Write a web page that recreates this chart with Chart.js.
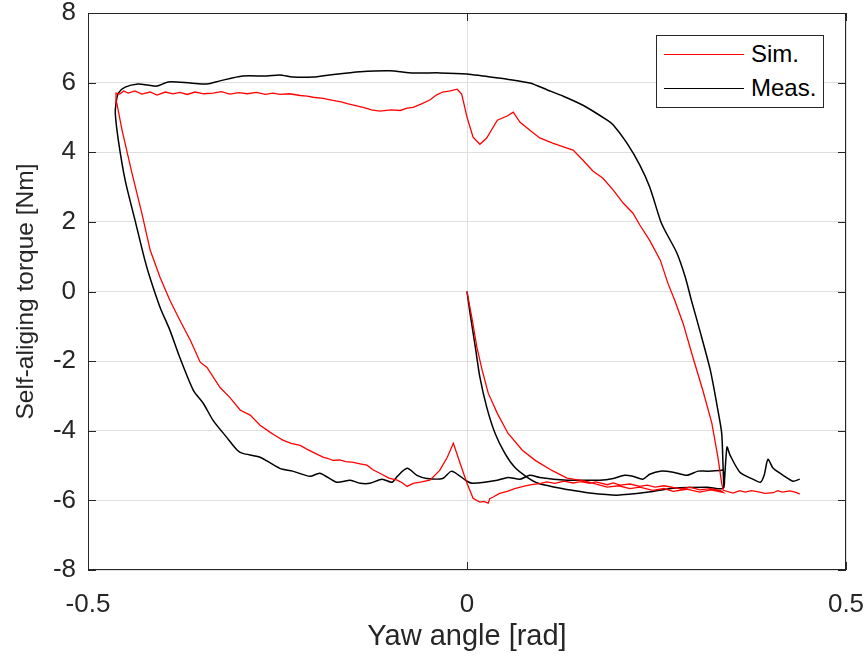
<!DOCTYPE html>
<html>
<head>
<meta charset="utf-8">
<script src="https://cdn.jsdelivr.net/npm/chart.js@4.4.1/dist/chart.umd.min.js"></script>
<style>
  html, body { margin: 0; padding: 0; background: #fff; }
  #wrap { position: relative; width: 868px; height: 659px; }
  #legend { position: absolute; left: 656px; top: 35px; width: 166px; height: 71px; border: 1px solid #262626; background: #fff;
            font-family: 'Liberation Sans', Arial, sans-serif; font-size: 24px; color: #000; }
  .row { position: absolute; left: 0; height: 30px; display: flex; align-items: center; }
  .sw { width: 80px; height: 0; border-top: 1.5px solid; margin-left: 7px; margin-right: 7px; }
</style>
</head>
<body>
<div id="wrap">
  <canvas id="chart" width="868" height="659"></canvas>
  <div id="legend">
    <div class="row" style="top:3px"><span class="sw" style="border-color:#ff0000"></span>Sim.</div>
    <div class="row" style="top:37px"><span class="sw" style="border-color:#000"></span>Meas.</div>
  </div>
</div>
<script>
// axis ticks
const xTicks = [-0.5, 0, 0.5];
const yTicks = [-8, -6, -4, -2, 0, 2, 4, 6, 8];

// yaw angle [rad], torque [Nm], in drawing order
const simulated = [
  [0, 0], [0.007, -0.82], [0.013, -1.60], [0.020, -2.26], [0.028, -2.92], [0.040, -3.50], [0.054, -4.07],
  [0.073, -4.56], [0.090, -4.85], [0.112, -5.14], [0.132, -5.36], [0.156, -5.45], [0.185, -5.62],
  [0.200, -5.58], [0.215, -5.66], [0.228, -5.62], [0.245, -5.71], [0.260, -5.66], [0.272, -5.74],
  [0.290, -5.68], [0.307, -5.76], [0.322, -5.70], [0.338, -5.77],
  [0.334, -5.71], [0.321, -5.66], [0.307, -5.70], [0.294, -5.62], [0.283, -5.67], [0.272, -5.63],
  [0.260, -5.58], [0.248, -5.62], [0.238, -5.56], [0.228, -5.60], [0.215, -5.53], [0.202, -5.56],
  [0.193, -5.50], [0.185, -5.55], [0.170, -5.47], [0.162, -5.51], [0.150, -5.46], [0.140, -5.50],
  [0.128, -5.45], [0.116, -5.51], [0.105, -5.47], [0.096, -5.52], [0.085, -5.55], [0.074, -5.60],
  [0.063, -5.66], [0.053, -5.74], [0.043, -5.80], [0.034, -5.91], [0.030, -5.95], [0.028, -6.08],
  [0.022, -6.03], [0.017, -6.05], [0.008, -5.94], [0, -5.51], [-0.009, -4.94], [-0.018, -4.36],
  [-0.026, -4.76], [-0.036, -5.14], [-0.049, -5.42], [-0.060, -5.47], [-0.071, -5.51], [-0.079, -5.60],
  [-0.085, -5.50], [-0.092, -5.42], [-0.103, -5.36], [-0.115, -5.22], [-0.124, -5.12], [-0.132, -4.99],
  [-0.141, -4.95], [-0.150, -4.91], [-0.160, -4.89], [-0.168, -4.84], [-0.177, -4.85], [-0.184, -4.79],
  [-0.190, -4.76], [-0.203, -4.62], [-0.212, -4.52], [-0.220, -4.42], [-0.232, -4.36], [-0.243, -4.27],
  [-0.252, -4.15], [-0.260, -4.04], [-0.273, -3.84], [-0.286, -3.55], [-0.299, -3.41], [-0.313, -3.04],
  [-0.326, -2.75], [-0.343, -2.18], [-0.352, -2.03], [-0.365, -1.40], [-0.379, -0.82], [-0.392, -0.25],
  [-0.405, 0.41], [-0.418, 1.19], [-0.429, 2.25], [-0.442, 3.40], [-0.455, 4.63], [-0.462, 5.41],
  [-0.463, 5.70], [-0.458, 5.67], [-0.453, 5.76], [-0.447, 5.70], [-0.438, 5.76], [-0.429, 5.67],
  [-0.418, 5.73], [-0.409, 5.64], [-0.398, 5.73], [-0.388, 5.68], [-0.379, 5.72], [-0.369, 5.66],
  [-0.359, 5.73], [-0.347, 5.68], [-0.335, 5.70], [-0.324, 5.74], [-0.313, 5.67], [-0.301, 5.71],
  [-0.290, 5.68], [-0.278, 5.72], [-0.266, 5.66], [-0.256, 5.70], [-0.247, 5.66], [-0.234, 5.68],
  [-0.220, 5.63], [-0.211, 5.61], [-0.203, 5.58], [-0.190, 5.55], [-0.177, 5.49], [-0.166, 5.45],
  [-0.158, 5.40], [-0.147, 5.34], [-0.137, 5.29], [-0.126, 5.22], [-0.115, 5.18], [-0.100, 5.22],
  [-0.088, 5.20], [-0.079, 5.27], [-0.071, 5.29], [-0.060, 5.39], [-0.049, 5.50], [-0.040, 5.65],
  [-0.032, 5.73], [-0.022, 5.76], [-0.013, 5.81], [-0.007, 5.67], [0, 5.01], [0.008, 4.43],
  [0.017, 4.23], [0.026, 4.41], [0.040, 4.92], [0.053, 5.04], [0.061, 5.15], [0.070, 4.86],
  [0.083, 4.63], [0.096, 4.41], [0.113, 4.26], [0.132, 4.12], [0.140, 4.06], [0.153, 3.77],
  [0.166, 3.46], [0.179, 3.26], [0.193, 2.91], [0.206, 2.54], [0.219, 2.25], [0.228, 1.91],
  [0.241, 1.47], [0.255, 0.90], [0.265, 0.24], [0.274, -0.25], [0.285, -0.91], [0.298, -1.89],
  [0.311, -2.83], [0.323, -3.78], [0.331, -4.76], [0.336, -5.51], [0.338, -5.71], [0.351, -5.79],
  [0.360, -5.72], [0.367, -5.76], [0.375, -5.72], [0.383, -5.75], [0.393, -5.80], [0.404, -5.78],
  [0.410, -5.72], [0.416, -5.76], [0.426, -5.73], [0.434, -5.77], [0.439, -5.82]
];

const measured = [
  [0, 0], [0.004, -0.62], [0.011, -1.60], [0.017, -2.46], [0.026, -3.32], [0.037, -4.07], [0.050, -4.65],
  [0.063, -5.05], [0.079, -5.33], [0.094, -5.51], [0.116, -5.62], [0.139, -5.71], [0.162, -5.79],
  [0.198, -5.85], [0.237, -5.77], [0.272, -5.65], [0.317, -5.62], [0.338, -5.65], [0.338, -5.14],
  [0.334, -5.14], [0.317, -5.16], [0.305, -5.16], [0.290, -5.28], [0.272, -5.19], [0.255, -5.16],
  [0.241, -5.25], [0.232, -5.39], [0.219, -5.31], [0.208, -5.28], [0.193, -5.37], [0.175, -5.42],
  [0.149, -5.42], [0.132, -5.42], [0.096, -5.34], [0.083, -5.28], [0.070, -5.39], [0.054, -5.34],
  [0.040, -5.42], [0.008, -5.51], [0, -5.45], [-0.020, -5.16], [-0.032, -5.37], [-0.053, -5.37],
  [-0.066, -5.28], [-0.079, -5.08], [-0.092, -5.31], [-0.099, -5.48], [-0.112, -5.39], [-0.128, -5.51],
  [-0.141, -5.51], [-0.154, -5.42], [-0.172, -5.48], [-0.194, -5.22], [-0.207, -5.31], [-0.230, -5.16],
  [-0.247, -5.08], [-0.273, -4.76], [-0.296, -4.65], [-0.303, -4.56], [-0.317, -4.19], [-0.335, -3.70],
  [-0.348, -3.21], [-0.361, -2.84], [-0.379, -1.89], [-0.392, -1.11], [-0.405, -0.45], [-0.418, 0.38],
  [-0.425, 0.90], [-0.438, 2.05], [-0.451, 3.20], [-0.460, 4.35], [-0.464, 5.12], [-0.463, 5.41],
  [-0.460, 5.70], [-0.451, 5.87], [-0.434, 5.96], [-0.421, 5.93], [-0.409, 5.90], [-0.394, 6.02],
  [-0.365, 5.99], [-0.343, 5.96], [-0.326, 6.05], [-0.296, 6.19], [-0.264, 6.19], [-0.247, 6.22],
  [-0.230, 6.16], [-0.203, 6.16], [-0.181, 6.22], [-0.141, 6.31], [-0.102, 6.34], [-0.071, 6.28],
  [-0.036, 6.28], [0, 6.25], [0.021, 6.19], [0.053, 6.10], [0.083, 5.99], [0.106, 5.79], [0.127, 5.61],
  [0.153, 5.35], [0.185, 4.92], [0.193, 4.78], [0.211, 4.26], [0.228, 3.63], [0.241, 3.00], [0.255, 2.05],
  [0.261, 1.76], [0.277, 1.10], [0.288, 0.41], [0.296, -0.25], [0.307, -1.11], [0.321, -2.26],
  [0.331, -3.41], [0.336, -4.07], [0.338, -5.14], [0.339, -5.62], [0.343, -4.47], [0.347, -4.70],
  [0.360, -5.19], [0.377, -5.39], [0.387, -5.48], [0.392, -5.28], [0.397, -4.82], [0.404, -5.08],
  [0.417, -5.28], [0.430, -5.45], [0.439, -5.39]
];

const toPoints = arr => arr.map(p => ({ x: p[0], y: p[1] }));
const font = 'Liberation Sans';

// box round the plot with inward tick marks on all four sides
const frame = {
  id: 'frame',
  afterDatasetsDraw(chart) {
    const { ctx, chartArea: a, scales: { x, y } } = chart;
    ctx.save();
    ctx.strokeStyle = '#262626';
    ctx.lineWidth = 1;
    ctx.strokeRect(a.left + 0.5, a.top + 0.5, a.right - a.left - 1, a.bottom - a.top - 1);
    ctx.beginPath();
    x.ticks.forEach(t => {
      const px = Math.round(x.getPixelForValue(t.value)) + 0.5;
      ctx.moveTo(px, a.bottom); ctx.lineTo(px, a.bottom - 8);
      ctx.moveTo(px, a.top); ctx.lineTo(px, a.top + 8);
    });
    y.ticks.forEach(t => {
      const py = Math.round(y.getPixelForValue(t.value)) + 0.5;
      ctx.moveTo(a.left, py); ctx.lineTo(a.left + 8, py);
      ctx.moveTo(a.right, py); ctx.lineTo(a.right - 8, py);
    });
    ctx.stroke();
    ctx.restore();
  }
};

new Chart(document.getElementById('chart'), {
  type: 'scatter',
  data: {
    datasets: [
      { label: 'Sim.', data: toPoints(simulated), showLine: true, borderColor: '#ff0000', borderWidth: 1.3, pointRadius: 0, tension: 0 },
      { label: 'Meas.', data: toPoints(measured), showLine: true, borderColor: '#000000', borderWidth: 1.5, pointRadius: 0, tension: 0.25 }
    ]
  },
  options: {
    responsive: false,
    animation: false,
    layout: { padding: { left: 0, right: 22, top: 13, bottom: 0 } },
    plugins: { legend: { display: false }, tooltip: { enabled: false } },
    scales: {
      x: {
        type: 'linear', min: -0.5, max: 0.5,
        afterBuildTicks: s => { s.ticks = xTicks.map(v => ({ value: v })); },
        afterFit: s => { s.height = 89; s.paddingLeft = 0; s.paddingRight = 0; },
        grid: { color: '#dfdfdf', drawTicks: false },
        border: { display: false },
        ticks: { padding: 19, color: '#262626', font: { family: font, size: 26 } },
        title: { display: true, text: 'Yaw angle [rad]', color: '#262626', padding: { top: 0, bottom: 5 }, font: { family: font, size: 29 } }
      },
      y: {
        type: 'linear', min: -8, max: 8,
        afterBuildTicks: s => { s.ticks = yTicks.map(v => ({ value: v })); },
        afterFit: s => { s.width = 88; s.paddingTop = 0; s.paddingBottom = 0; },
        grid: { color: '#dfdfdf', drawTicks: false },
        border: { display: false },
        ticks: { padding: 12, color: '#262626', font: { family: font, size: 26 } },
        title: { display: true, text: 'Self-aliging torque [Nm]', color: '#262626', padding: { top: 12, bottom: 0 }, font: { family: font, size: 24.5 } }
      }
    }
  },
  plugins: [frame]
});
</script>
</body>
</html>
